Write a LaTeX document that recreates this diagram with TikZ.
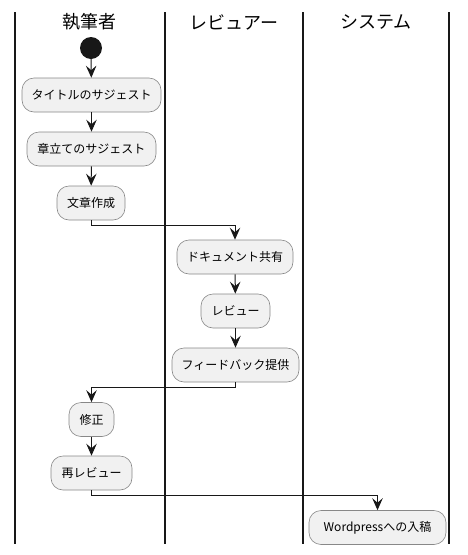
\documentclass[tikz,border=0pt]{standalone}
\usepackage{fontspec}
\setmainfont{Noto Sans CJK JP}
\usetikzlibrary{arrows.meta}
\definecolor{actfill}{HTML}{F1F1F1}
\definecolor{actline}{HTML}{181818}
\definecolor{boxline}{HTML}{888888}
\tikzset{
  act/.style={draw=boxline, fill=actfill, rounded corners=12pt, minimum height=34pt, inner xsep=0pt, font=\fontsize{12}{14}\selectfont, line width=0.6pt},
  lane/.style={line width=1.5pt, draw=actline},
  flow/.style={draw=actline, line width=1pt, -{Stealth[length=12pt,width=10.5pt,inset=4.5pt]}},
  head/.style={font=\fontsize{18}{20}\selectfont},
}
\begin{document}
\begin{tikzpicture}[x=1pt,y=-1pt]
\useasboundingbox (0,0) rectangle (468,555);
% lanes
\draw[lane] (15,12) -- (15,544);
\draw[lane] (165,12) -- (165,544);
\draw[lane] (303,12) -- (303,544);
\draw[lane] (449,12) -- (449,544);
\node[head] (h1) at (90,22) {執筆者};
\node[head] (h2) at (234,22) {レビュアー};
\node[head] (h3) at (376,22) {システム};
% start
\node[circle, fill=actline, minimum size=22pt, inner sep=0pt] (s) at (91,48) {};
% activities
\node[act, minimum width=139pt] (n1) at (91.5,95) {タイトルのサジェスト};
\node[act, minimum width=129pt] (n2) at (91.5,149) {章立てのサジェスト};
\node[act, minimum width=68pt] (n3) at (91,203) {文章作成};
\node[act, minimum width=116pt] (n4) at (235,257) {ドキュメント共有};
\node[act, minimum width=69pt] (n5) at (235.5,311) {レビュー};
\node[act, minimum width=127pt] (n6) at (235.5,365) {フィードバック提供};
\node[act, minimum width=45pt] (n7) at (91.5,419.5) {修正};
\node[act, minimum width=81pt] (n8) at (91.5,473) {再レビュー};
\node[act, minimum width=137pt] (n9) at (377.5,527.5) {Wordpressへの入稿};
% flows
\draw[flow] (s) -- (n1);
\draw[flow] (n1) -- (n2);
\draw[flow] (n2) -- (n3);
\draw[flow] (n3.south) -- ++(0,5) -| (n4.north);
\draw[flow] (n4) -- (n5);
\draw[flow] (n5) -- (n6);
\draw[flow] (n6.south) -- ++(0,5) -| (n7.north);
\draw[flow] (n7) -- (n8);
\draw[flow] (n8.south) -- ++(0,5) -| (n9.north);
\end{tikzpicture}
\end{document}
